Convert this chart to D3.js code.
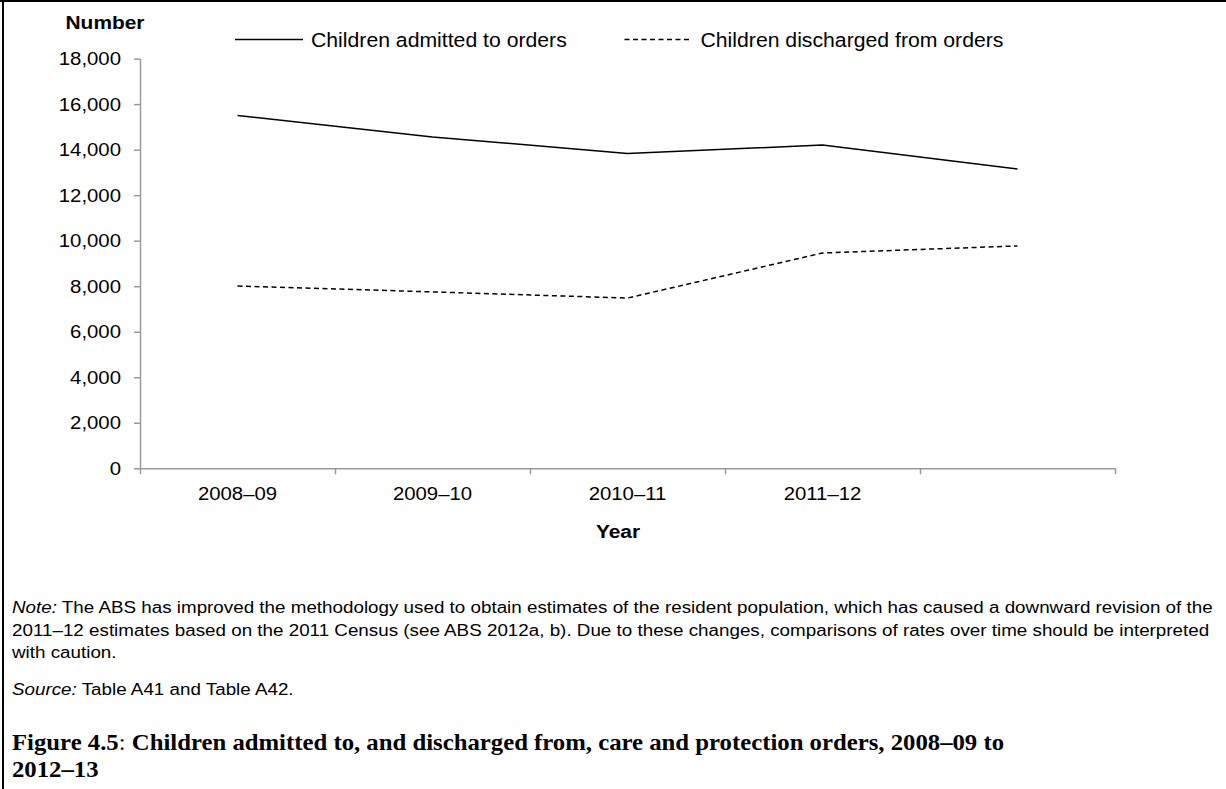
<!DOCTYPE html>
<html><head><meta charset="utf-8">
<script src="https://cdn.jsdelivr.net/npm/d3@7"></script>
<style>body{margin:0;background:#fff}svg{display:block}</style>
</head><body><svg id="c" width="1226" height="789"></svg>
<script>
// ---- data ----
const categories = ["2008–09","2009–10","2010–11","2011–12","2012–13"];
const tickLabels = ["2008–09","2009–10","2010–11","2011–12",""];
const admitted   = [15500, 14560, 13830, 14200, 13150];
const discharged = [8010, 7750, 7480, 9460, 9770];
const yTicks = [0,2000,4000,6000,8000,10000,12000,14000,16000,18000];
const seriesNames = ["Children admitted to orders","Children discharged from orders"];
const yTitle = "Number", xTitle = "Year";
const noteLines = [
  ["Note:", " The ABS has improved the methodology used to obtain estimates of the resident population, which has caused a downward revision of the"],
  ["", "2011–12 estimates based on the 2011 Census (see ABS 2012a, b). Due to these changes, comparisons of rates over time should be interpreted"],
  ["", "with caution."]
];
const sourceLine = ["Source:", " Table A41 and Table A42."];
const titleLine1 = ["Figure 4.5", ":", " Children admitted to, and discharged from, care and protection orders, 2008–09 to"];
const titleLine2 = "2012–13";

// ---- layout ----
const SX = 1.1;
const SANS = "'Liberation Sans', Arial, sans-serif";
const SERIF = "'Liberation Serif', 'Times New Roman', serif";
const svg = d3.select("#c");
const x0 = 140, x1 = 1115, yTop = 58.6, yBot = 468.3;

const x = d3.scaleLinear().domain([0, categories.length]).range([x0, x1]);
const y = d3.scaleLinear().domain([0, 18000]).range([yBot, yTop]);

function stext(parent, px, py, anchor) {
  return parent.append("text")
    .attr("transform", `translate(${px},${py}) scale(${SX},1)`)
    .attr("text-anchor", anchor || "start");
}

// border
svg.append("line").attr("x1",3).attr("x2",3).attr("y1",0).attr("y2",789).attr("stroke","#000").attr("stroke-width",2);
svg.append("line").attr("x1",0).attr("x2",1226).attr("y1",1).attr("y2",1).attr("stroke","#000").attr("stroke-width",2);

// y axis
const gy = svg.append("g").attr("transform", `translate(${x0},0)`)
  .call(d3.axisLeft(y).tickValues(yTicks).tickFormat(d3.format(",")).tickSize(6).tickSizeOuter(0).tickPadding(13));
gy.selectAll("path.domain, .tick line").attr("stroke", "#9a9a9a").attr("stroke-width", 1.5);
gy.selectAll(".tick text").each(function(){
  const t = d3.select(this);
  const xx = +t.attr("x");
  t.attr("x", xx / SX).attr("transform", `scale(${SX},1)`);
}).attr("font-family", SANS).attr("font-size", 18.5).attr("fill", "#000");

// x axis
const gx = svg.append("g").attr("transform", `translate(0,${yBot})`)
  .call(d3.axisBottom(x).tickValues(d3.range(categories.length + 1)).tickFormat("").tickSize(6).tickSizeOuter(0));
gx.selectAll("path.domain, .tick line").attr("stroke", "#9a9a9a").attr("stroke-width", 1.5);

const xl = svg.append("g").attr("font-family", SANS).attr("font-size", 18.5).attr("fill", "#000");
categories.forEach((c, i) => {
  stext(xl, x(i + 0.5), 499.5, "middle").text(tickLabels[i]);
});

// axis titles
stext(svg, 105, 29, "middle").attr("font-family", SANS).attr("font-weight", "bold").attr("font-size", 19).text(yTitle);
stext(svg, 618, 538, "middle").attr("font-family", SANS).attr("font-weight", "bold").attr("font-size", 19).text(xTitle);

// lines
const line = d3.line().x((d, i) => x(i + 0.5)).y(d => y(d));
svg.append("path").datum(admitted).attr("d", line).attr("fill", "none").attr("stroke", "#000").attr("stroke-width", 1.5).attr("stroke-linejoin","round");
svg.append("path").datum(discharged).attr("d", line).attr("fill", "none").attr("stroke", "#000").attr("stroke-width", 1.5).attr("stroke-dasharray", "5,3.5");

// legend
const lg = svg.append("g").attr("font-family", SANS).attr("font-size", 19.3).attr("fill", "#000");
lg.append("line").attr("x1", 235).attr("x2", 303).attr("y1", 39.5).attr("y2", 39.5).attr("stroke", "#000").attr("stroke-width", 1.5);
stext(lg, 311, 47, "start").text(seriesNames[0]);
lg.append("line").attr("x1", 624.5).attr("x2", 692).attr("y1", 39.5).attr("y2", 39.5).attr("stroke", "#000").attr("stroke-width", 1.5).attr("stroke-dasharray", "5,3.5");
stext(lg, 700.5, 47, "start").text(seriesNames[1]);

// notes
const ng = svg.append("g").attr("font-family", SANS).attr("font-size", 17.1).attr("fill", "#000");
const noteY = [613, 635.5, 657.5];
noteLines.forEach((ln, i) => {
  const t = stext(ng, 12, noteY[i], "start");
  if (ln[0]) t.append("tspan").attr("font-style", "italic").text(ln[0]);
  t.append("tspan").text(ln[1]);
});
const st = stext(ng, 12, 694.5, "start");
st.append("tspan").attr("font-style", "italic").text(sourceLine[0]);
st.append("tspan").text(sourceLine[1]);

// title
const tg = svg.append("g").attr("font-family", SERIF).attr("font-size", 22.5).attr("fill", "#000");
const t1 = stext(tg, 12, 750, "start");
t1.append("tspan").attr("font-weight", "bold").text(titleLine1[0]);
t1.append("tspan").attr("font-weight", "normal").text(titleLine1[1]);
t1.append("tspan").attr("font-weight", "bold").text(titleLine1[2]);
stext(tg, 12, 777, "start").attr("font-weight", "bold").text(titleLine2);
</script>
</body></html>
